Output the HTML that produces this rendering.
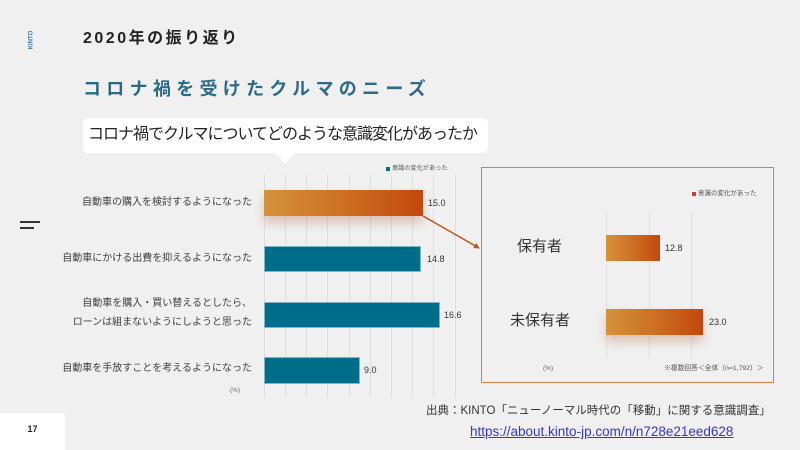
<!DOCTYPE html>
<html><head><meta charset="utf-8">
<style>
html,body{margin:0;padding:0;}
body{width:800px;height:450px;background:#f0f0f0;position:relative;overflow:hidden;font-family:"Liberation Sans","Noto Sans CJK JP",sans-serif;color:#333;}
.a{position:absolute;white-space:nowrap;}
.g{position:absolute;width:1px;background:#dedede;}
.or{background:linear-gradient(90deg,#d4923b 0%,#cb6c22 55%,#c3470e 100%);box-shadow:0 7px 10px rgba(170,80,40,0.28);}
.tl{background:#006e8a;border:1px solid rgba(255,255,255,0.5);box-sizing:border-box;}
.lab{position:absolute;right:548px;text-align:right;font-size:10px;color:#404040;height:14px;line-height:14px;white-space:nowrap;}
.val{position:absolute;font-size:9px;color:#333;height:12px;line-height:12px;}
</style></head><body>

<!-- KINTO vertical -->
<div class="a" style="left:19px;top:36px;width:25px;height:8px;line-height:8px;font-size:6px;font-weight:bold;color:#3a7ca0;text-align:center;transform:rotate(-90deg);">KINTO</div>

<!-- hamburger -->
<div class="a" style="left:20px;top:221px;width:20px;height:2px;background:#333;"></div>
<div class="a" style="left:20px;top:227px;width:14px;height:2px;background:#333;"></div>

<!-- headings -->
<div class="a" style="left:83px;top:29px;height:20px;line-height:20px;font-size:16px;font-weight:bold;letter-spacing:2.5px;color:#222;">2020年の振り返り</div>
<div class="a" style="left:83px;top:77px;height:24px;line-height:24px;font-size:18px;font-weight:bold;letter-spacing:5.3px;color:#2b6b89;">コロナ禍を受けたクルマのニーズ</div>

<!-- bubble -->
<div class="a" style="left:83px;top:118px;width:405px;height:35px;background:#fff;border-radius:5px;"></div>
<div class="a" style="left:275px;top:152px;width:0;height:0;border-left:10px solid transparent;border-right:10px solid transparent;border-top:12px solid #fff;"></div>
<div class="a" style="left:88px;top:125px;height:20px;line-height:20px;font-size:16px;letter-spacing:-1px;color:#222;">コロナ禍でクルマについてどのような意識変化があったか</div>

<!-- left legend -->
<div class="a" style="left:386px;top:167px;width:4px;height:4px;background:#006e8a;"></div>
<div class="a" style="left:392px;top:165px;height:8px;line-height:8px;font-size:6.2px;color:#555;">意識の変化があった</div>

<!-- left gridlines -->
<div class="g" style="left:264px;top:175px;height:223px;"></div>
<div class="g" style="left:285px;top:175px;height:223px;"></div>
<div class="g" style="left:306px;top:175px;height:223px;"></div>
<div class="g" style="left:327px;top:175px;height:223px;"></div>
<div class="g" style="left:349px;top:175px;height:223px;"></div>
<div class="g" style="left:370px;top:175px;height:223px;"></div>
<div class="g" style="left:391px;top:175px;height:223px;"></div>
<div class="g" style="left:412px;top:175px;height:223px;"></div>
<div class="g" style="left:433px;top:175px;height:223px;"></div>
<div class="g" style="left:455px;top:175px;height:223px;"></div>

<!-- left bars -->
<div class="a or" style="left:264px;top:190px;width:159px;height:26px;"></div>
<div class="a tl" style="left:264px;top:246px;width:157px;height:26px;"></div>
<div class="a tl" style="left:264px;top:302px;width:176px;height:26px;"></div>
<div class="a tl" style="left:264px;top:357px;width:96px;height:27px;"></div>

<!-- left labels -->
<div class="lab" style="top:196px;">自動車の購入を検討するようになった</div>
<div class="lab" style="top:252px;">自動車にかける出費を抑えるようになった</div>
<div class="lab" style="top:297px;">自動車を購入・買い替えるとしたら、</div>
<div class="lab" style="top:316px;">ローンは組まないようにしようと思った</div>
<div class="lab" style="top:362px;">自動車を手放すことを考えるようになった</div>
<div class="a" style="left:230px;top:387px;height:8px;line-height:8px;font-size:6.5px;color:#666;">(%)</div>

<!-- left values -->
<div class="val" style="left:428px;top:197px;">15.0</div>
<div class="val" style="left:427px;top:253px;">14.8</div>
<div class="val" style="left:444px;top:309px;">16.6</div>
<div class="val" style="left:364px;top:364px;">9.0</div>

<!-- connector arrow -->
<svg class="a" style="left:0;top:0;" width="800" height="450">
<defs><marker id="ar" markerWidth="6" markerHeight="6" refX="5" refY="3" orient="auto" markerUnits="userSpaceOnUse"><path d="M0,0 L6,3 L0,6 z" fill="#c0501a"/></marker></defs>
<line x1="423" y1="216" x2="479" y2="248" stroke="#c0501a" stroke-width="1.5" marker-end="url(#ar)"/>
</svg>

<!-- right box -->
<div class="a" style="left:481px;top:167px;width:291px;height:214px;border:1.5px solid #d8804a;box-sizing:content-box;"></div>
<div class="a" style="left:692px;top:192px;width:4px;height:4px;background:#d63a3a;"></div>
<div class="a" style="left:698px;top:190px;height:8px;line-height:8px;font-size:6.5px;color:#555;">意識の変化があった</div>

<div class="g" style="left:606px;top:212px;height:147px;"></div>
<div class="g" style="left:649px;top:212px;height:147px;"></div>
<div class="g" style="left:691px;top:212px;height:147px;"></div>

<div class="a or" style="left:606px;top:235px;width:54px;height:26px;box-shadow:none;"></div>
<div class="a or" style="left:606px;top:309px;width:97px;height:26px;"></div>

<div class="a" style="left:517px;top:237px;height:20px;line-height:20px;font-size:15px;color:#333;">保有者</div>
<div class="a" style="left:510px;top:311px;height:20px;line-height:20px;font-size:15px;color:#333;">未保有者</div>

<div class="val" style="left:665px;top:242px;">12.8</div>
<div class="val" style="left:709px;top:316px;">23.0</div>

<div class="a" style="left:543px;top:365px;height:8px;line-height:8px;font-size:6.5px;color:#666;">(%)</div>
<div class="a" style="left:664px;top:365px;height:8px;line-height:8px;font-size:6.8px;color:#555;">※複数回答＜全体（n=1,792）＞</div>

<!-- footer -->
<div class="a" style="left:426px;top:403px;height:16px;line-height:16px;font-size:11.5px;color:#333;">出典：KINTO「ニューノーマル時代の「移動」に関する意識調査」</div>
<div class="a" style="left:470px;top:424px;height:16px;line-height:16px;font-size:13.5px;color:#3535d0;text-decoration:underline;">https://about.kinto-jp.com/n/n728e21eed628</div>

<!-- page number -->
<div class="a" style="left:0;top:413px;width:65px;height:37px;background:#fff;"></div>
<div class="a" style="left:0;top:423px;width:65px;height:12px;line-height:12px;font-size:9px;font-weight:bold;color:#222;text-align:center;">17</div>

</body></html>
